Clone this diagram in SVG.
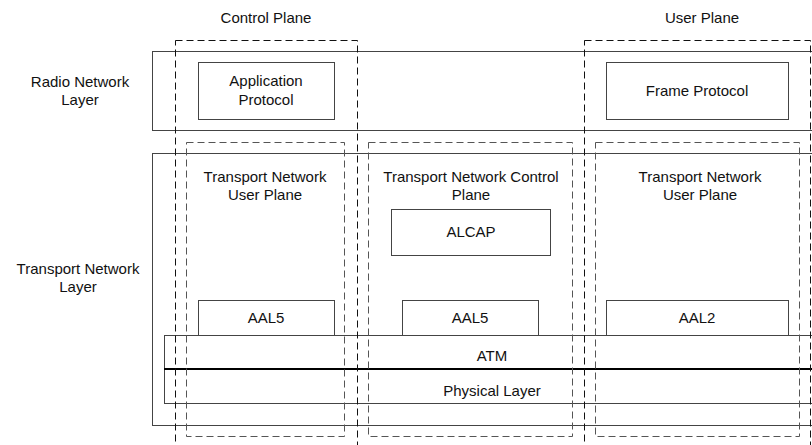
<svg xmlns="http://www.w3.org/2000/svg" width="812" height="445" viewBox="0 0 812 445">
<style>
  text { font-family: "Liberation Sans", Arial, sans-serif; font-size: 15px; fill: #111; text-anchor: middle; }
  .box { fill: #fff; stroke: #444; stroke-width: 1; }
  .layer { fill: none; stroke: #444; stroke-width: 1; }
  .plane { fill: none; stroke: #111; stroke-width: 1; stroke-dasharray: 7 4; }
  .tn { fill: none; stroke: #555; stroke-width: 1; stroke-dasharray: 7 4; }
  .thick { stroke: #000; stroke-width: 2; }
</style>
<rect width="812" height="445" fill="#fff"/>
<g id="radio-network-layer">
  <rect class="layer" x="152.5" y="51.5" width="680" height="79"/>
  <text x="80" y="87">Radio Network</text>
  <text x="80" y="105">Layer</text>
</g>
<g id="transport-network-layer">
  <rect class="layer" x="152.5" y="153.5" width="680" height="272"/>
  <text x="78" y="274">Transport Network</text>
  <text x="78" y="292">Layer</text>
</g>
<g id="atm-physical">
  <rect class="layer" x="164.5" y="335.5" width="670" height="68"/>
  <line class="thick" x1="164" y1="369" x2="812" y2="369"/>
  <text x="492" y="361">ATM</text>
  <text x="492" y="396">Physical Layer</text>
</g>
<g id="application-protocol">
  <rect class="box" x="198.5" y="62.5" width="136" height="57"/>
  <text x="266" y="86">Application</text>
  <text x="266" y="105">Protocol</text>
</g>
<g id="frame-protocol">
  <rect class="box" x="606.5" y="62.5" width="182" height="57"/>
  <text x="697" y="96">Frame Protocol</text>
</g>
<g id="alcap">
  <rect class="box" x="391.5" y="209.5" width="159" height="46"/>
  <text x="471" y="237">ALCAP</text>
</g>
<g id="aal5-left">
  <rect class="box" x="198.5" y="300.5" width="136" height="35"/>
  <text x="266" y="323">AAL5</text>
</g>
<g id="aal5-middle">
  <rect class="box" x="402.5" y="300.5" width="136" height="35"/>
  <text x="470" y="323">AAL5</text>
</g>
<g id="aal2">
  <rect class="box" x="606.5" y="300.5" width="182" height="35"/>
  <text x="697" y="323">AAL2</text>
</g>
<g id="tn-user-plane-left">
  <rect class="tn" x="186.5" y="142.5" width="158" height="294"/>
  <text x="265" y="182">Transport Network</text>
  <text x="265" y="200">User Plane</text>
</g>
<g id="tn-control-plane">
  <rect class="tn" x="368.5" y="142.5" width="204" height="294"/>
  <text x="471" y="182">Transport Network Control</text>
  <text x="471" y="200">Plane</text>
</g>
<g id="tn-user-plane-right">
  <rect class="tn" x="595.5" y="142.5" width="204" height="294"/>
  <text x="700" y="182">Transport Network</text>
  <text x="700" y="200">User Plane</text>
</g>
<g id="control-plane">
  <rect class="plane" x="175.5" y="40.5" width="182" height="420"/>
  <text x="266" y="23">Control Plane</text>
</g>
<g id="user-plane">
  <rect class="plane" x="584.5" y="40.5" width="226" height="420"/>
  <text x="702" y="23">User Plane</text>
</g>
<g id="connectors"></g>
</svg>
